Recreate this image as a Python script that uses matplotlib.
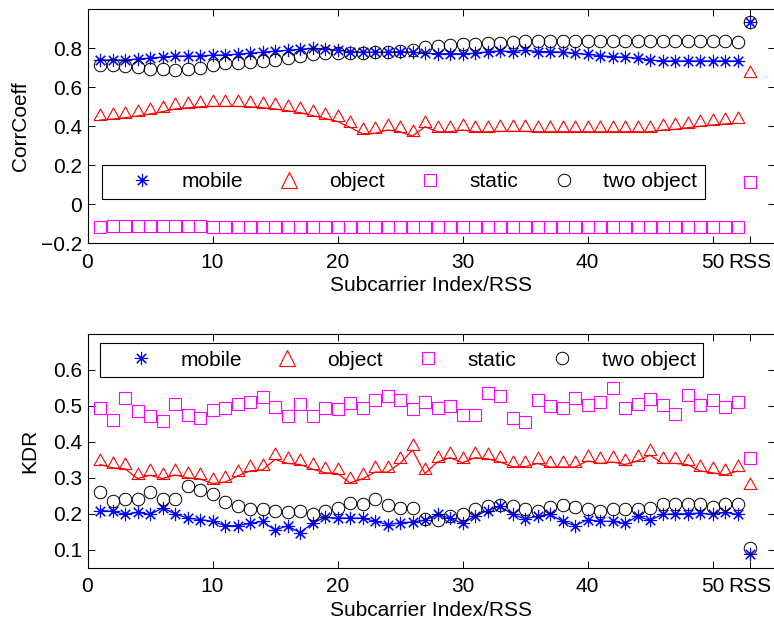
import matplotlib
matplotlib.use('Agg')
import matplotlib.pyplot as plt
from matplotlib.path import Path
from matplotlib.lines import Line2D
from matplotlib.ticker import FuncFormatter

plt.rcParams['font.family'] = ['Liberation Sans', 'DejaVu Sans']

# subcarrier 1..52, RSS shown as an extra column
sub_idx = list(range(1, 53))
rss_pos = 53
xtick_pos = [0, 10, 20, 30, 40, 50, rss_pos]
xtick_lab = ['0', '10', '20', '30', '40', '50', 'RSS']
series_names = ['mobile', 'object', 'static', 'two object']

corr_mobile = [0.74, 0.74, 0.74, 0.745, 0.75, 0.755, 0.76, 0.76, 0.76, 0.765, 0.765, 0.77, 0.775, 0.78, 0.785, 0.79, 0.795, 0.80,
               0.796, 0.79, 0.783, 0.78, 0.78, 0.78, 0.783, 0.78, 0.774, 0.772, 0.772, 0.772, 0.774, 0.783, 0.786, 0.783, 0.79,
               0.783, 0.783, 0.78, 0.774, 0.769, 0.762, 0.757, 0.755, 0.749, 0.74, 0.735, 0.735, 0.735, 0.735, 0.735, 0.735, 0.735]
corr_object = [0.432, 0.437, 0.444, 0.453, 0.463, 0.475, 0.489, 0.495, 0.50, 0.502, 0.502, 0.502, 0.50, 0.495, 0.489, 0.48, 0.47, 0.455,
               0.44, 0.425, 0.395, 0.362, 0.364, 0.381, 0.372, 0.35, 0.398, 0.372, 0.372, 0.381, 0.372, 0.372, 0.374, 0.374, 0.374,
               0.372, 0.372, 0.372, 0.372, 0.372, 0.372, 0.372, 0.372, 0.372, 0.372, 0.381, 0.384, 0.393, 0.40, 0.407, 0.412, 0.415]
corr_static = [-0.115, -0.113, -0.113, -0.113, -0.113, -0.11, -0.113, -0.113, -0.113, -0.115, -0.115, -0.115, -0.115, -0.115,
               -0.115, -0.115, -0.115, -0.115, -0.115, -0.115, -0.115, -0.115, -0.115, -0.115, -0.115, -0.115, -0.115, -0.115,
               -0.115, -0.115, -0.115, -0.115, -0.115, -0.115, -0.115, -0.115, -0.115, -0.115, -0.115, -0.115, -0.115, -0.115,
               -0.115, -0.115, -0.115, -0.115, -0.115, -0.115, -0.115, -0.115, -0.115, -0.115]
corr_two = [0.714, 0.714, 0.709, 0.703, 0.694, 0.692, 0.689, 0.692, 0.697, 0.714, 0.723, 0.727, 0.731, 0.735, 0.74, 0.749, 0.760, 0.770,
            0.778, 0.778, 0.778, 0.778, 0.78, 0.783, 0.786, 0.79, 0.805, 0.813, 0.817, 0.82, 0.822, 0.825, 0.828, 0.83, 0.835,
            0.837, 0.837, 0.837, 0.837, 0.837, 0.837, 0.837, 0.837, 0.837, 0.837, 0.837, 0.837, 0.837, 0.837, 0.837, 0.835, 0.831]
corr_rss = [0.933, 0.654, 0.116, 0.933]  # mobile, object, static, two object

kdr_mobile = [0.209, 0.207, 0.198, 0.204, 0.198, 0.216, 0.20, 0.188, 0.184, 0.179, 0.167, 0.167, 0.173, 0.179, 0.154, 0.167, 0.147, 0.174,
              0.19, 0.188, 0.188, 0.188, 0.179, 0.17, 0.175, 0.177, 0.182, 0.198, 0.188, 0.173, 0.193, 0.209, 0.221, 0.198, 0.186,
              0.193, 0.198, 0.179, 0.167, 0.184, 0.179, 0.179, 0.173, 0.193, 0.182, 0.198, 0.20, 0.20, 0.202, 0.198, 0.204, 0.198]
kdr_object = [0.337, 0.328, 0.325, 0.298, 0.307, 0.298, 0.308, 0.30, 0.297, 0.284, 0.288, 0.305, 0.319, 0.322, 0.351, 0.34, 0.337, 0.324,
              0.314, 0.312, 0.286, 0.297, 0.316, 0.316, 0.34, 0.377, 0.312, 0.344, 0.356, 0.342, 0.356, 0.353, 0.344, 0.331, 0.331,
              0.34, 0.33, 0.33, 0.33, 0.347, 0.34, 0.344, 0.337, 0.347, 0.363, 0.34, 0.34, 0.337, 0.319, 0.314, 0.308, 0.319]
kdr_static = [0.494, 0.461, 0.521, 0.486, 0.472, 0.458, 0.505, 0.474, 0.466, 0.488, 0.493, 0.505, 0.511, 0.525, 0.497, 0.471, 0.505, 0.472,
              0.493, 0.491, 0.508, 0.493, 0.516, 0.528, 0.517, 0.491, 0.511, 0.493, 0.499, 0.474, 0.474, 0.536, 0.528, 0.465, 0.454,
              0.516, 0.499, 0.493, 0.521, 0.502, 0.511, 0.549, 0.493, 0.505, 0.519, 0.502, 0.477, 0.530, 0.502, 0.516, 0.496, 0.511]
kdr_two = [0.26, 0.235, 0.242, 0.242, 0.26, 0.242, 0.242, 0.277, 0.265, 0.254, 0.232, 0.221, 0.214, 0.214, 0.207, 0.204, 0.207, 0.198,
           0.207, 0.216, 0.23, 0.228, 0.24, 0.223, 0.216, 0.216, 0.186, 0.184, 0.193, 0.198, 0.214, 0.221, 0.223, 0.221, 0.212,
           0.209, 0.219, 0.223, 0.219, 0.212, 0.209, 0.212, 0.214, 0.212, 0.216, 0.228, 0.228, 0.228, 0.228, 0.219, 0.226, 0.226]
kdr_rss = [0.089, 0.268, 0.354, 0.105]

# triangle sitting on its data point (base on the value), like the original
tri = Path([(-1, 0), (1, 0), (0, 1.8), (-1, 0)],
           [Path.MOVETO, Path.LINETO, Path.LINETO, Path.CLOSEPOLY])
star = (8, 2, 0)
FS = 15


def draw_panel(ax, mob, obj, sta, two, rss, ylim, yticks, ylabel, ylab_x, leg_box):
    ax.plot(sub_idx, mob, '-', color='b', lw=0.9, marker='.', ms=4, mfc='#0000b0', mec='#0000b0')
    ax.plot(sub_idx, mob, ls='none', marker=star, ms=9.5, mec='b', mew=0.8)
    ax.plot(sub_idx, obj, '-', color='r', lw=0.9)
    ax.plot(sub_idx, obj, ls='none', marker=tri, ms=16.5, mfc='none', mec='r', mew=0.8)
    ax.plot(sub_idx, sta, ls='none', marker='s', ms=8, mfc='none', mec='#ff00ff', mew=0.8)
    ax.plot(sub_idx, two, ls='none', marker='o', ms=9, mfc='none', mec='k', mew=0.7)
    # RSS column
    ax.plot(rss_pos, rss[0], ls='none', marker=star, ms=9.5, mec='b', mew=0.8)
    ax.plot(rss_pos, rss[1], ls='none', marker=tri, ms=16.5, mfc='none', mec='r', mew=0.8)
    ax.plot(rss_pos, rss[2], ls='none', marker='s', ms=8, mfc='none', mec='#ff00ff', mew=0.8)
    ax.plot(rss_pos, rss[3], ls='none', marker='o', ms=9, mfc='none', mec='k', mew=0.7)

    ax.set_xlim(0, 55)
    ax.set_ylim(*ylim)
    ax.set_xticks(xtick_pos)
    ax.set_xticklabels(xtick_lab)
    ax.set_yticks(yticks)
    ax.yaxis.set_major_formatter(FuncFormatter(lambda v, p: ('%g' % round(v, 2)).replace('-', '\u2212')))
    ax.tick_params(direction='in', top=True, right=True, length=5, width=0.7, labelsize=FS)
    ax.tick_params(axis='x', pad=7)
    ax.tick_params(axis='y', pad=4)
    for s in ax.spines.values():
        s.set_linewidth(0.8)
    ax.set_xlabel('Subcarrier Index/RSS', fontsize=FS, labelpad=3)
    ax.set_ylabel(ylabel, fontsize=FS)
    ax.yaxis.set_label_coords(ylab_x, 0.5)

    hs = [Line2D([], [], ls='none', marker=star, ms=9.5, mec='b', mew=0.8),
          Line2D([], [], ls='none', marker='^', ms=11, mfc='none', mec='r', mew=0.8),
          Line2D([], [], ls='none', marker='s', ms=8, mfc='none', mec='#ff00ff', mew=0.8),
          Line2D([], [], ls='none', marker='o', ms=9, mfc='none', mec='k', mew=0.7)]
    leg = ax.legend(hs, series_names, loc='center', bbox_to_anchor=leg_box, mode='expand', ncol=4,
                    fontsize=FS, fancybox=False, framealpha=1, edgecolor='k', borderpad=0.35,
                    handlelength=3.2, handletextpad=0.3, borderaxespad=0)
    leg.get_frame().set_linewidth(0.8)


fig = plt.figure(figsize=(7.74, 6.24), dpi=100)
ax1 = fig.add_axes([87.5 / 774, 1 - 243.3 / 624, 687.5 / 774, 234 / 624])
ax2 = fig.add_axes([87.5 / 774, 1 - 567.7 / 624, 687.5 / 774, 233.7 / 624])

draw_panel(ax1, corr_mobile, corr_object, corr_static, corr_two, corr_rss,
           (-0.2, 1.0), [-0.2, 0, 0.2, 0.4, 0.6, 0.8], 'CorrCoeff', -0.084,
           (0.0207, 0.181, 0.877, 0.163))
draw_panel(ax2, kdr_mobile, kdr_object, kdr_static, kdr_two, kdr_rss,
           (0.05, 0.7), [0.1, 0.2, 0.3, 0.4, 0.5, 0.6], 'KDR', -0.07,
           (0.018, 0.807, 0.877, 0.163))

fig.savefig('out.png', dpi=100)
